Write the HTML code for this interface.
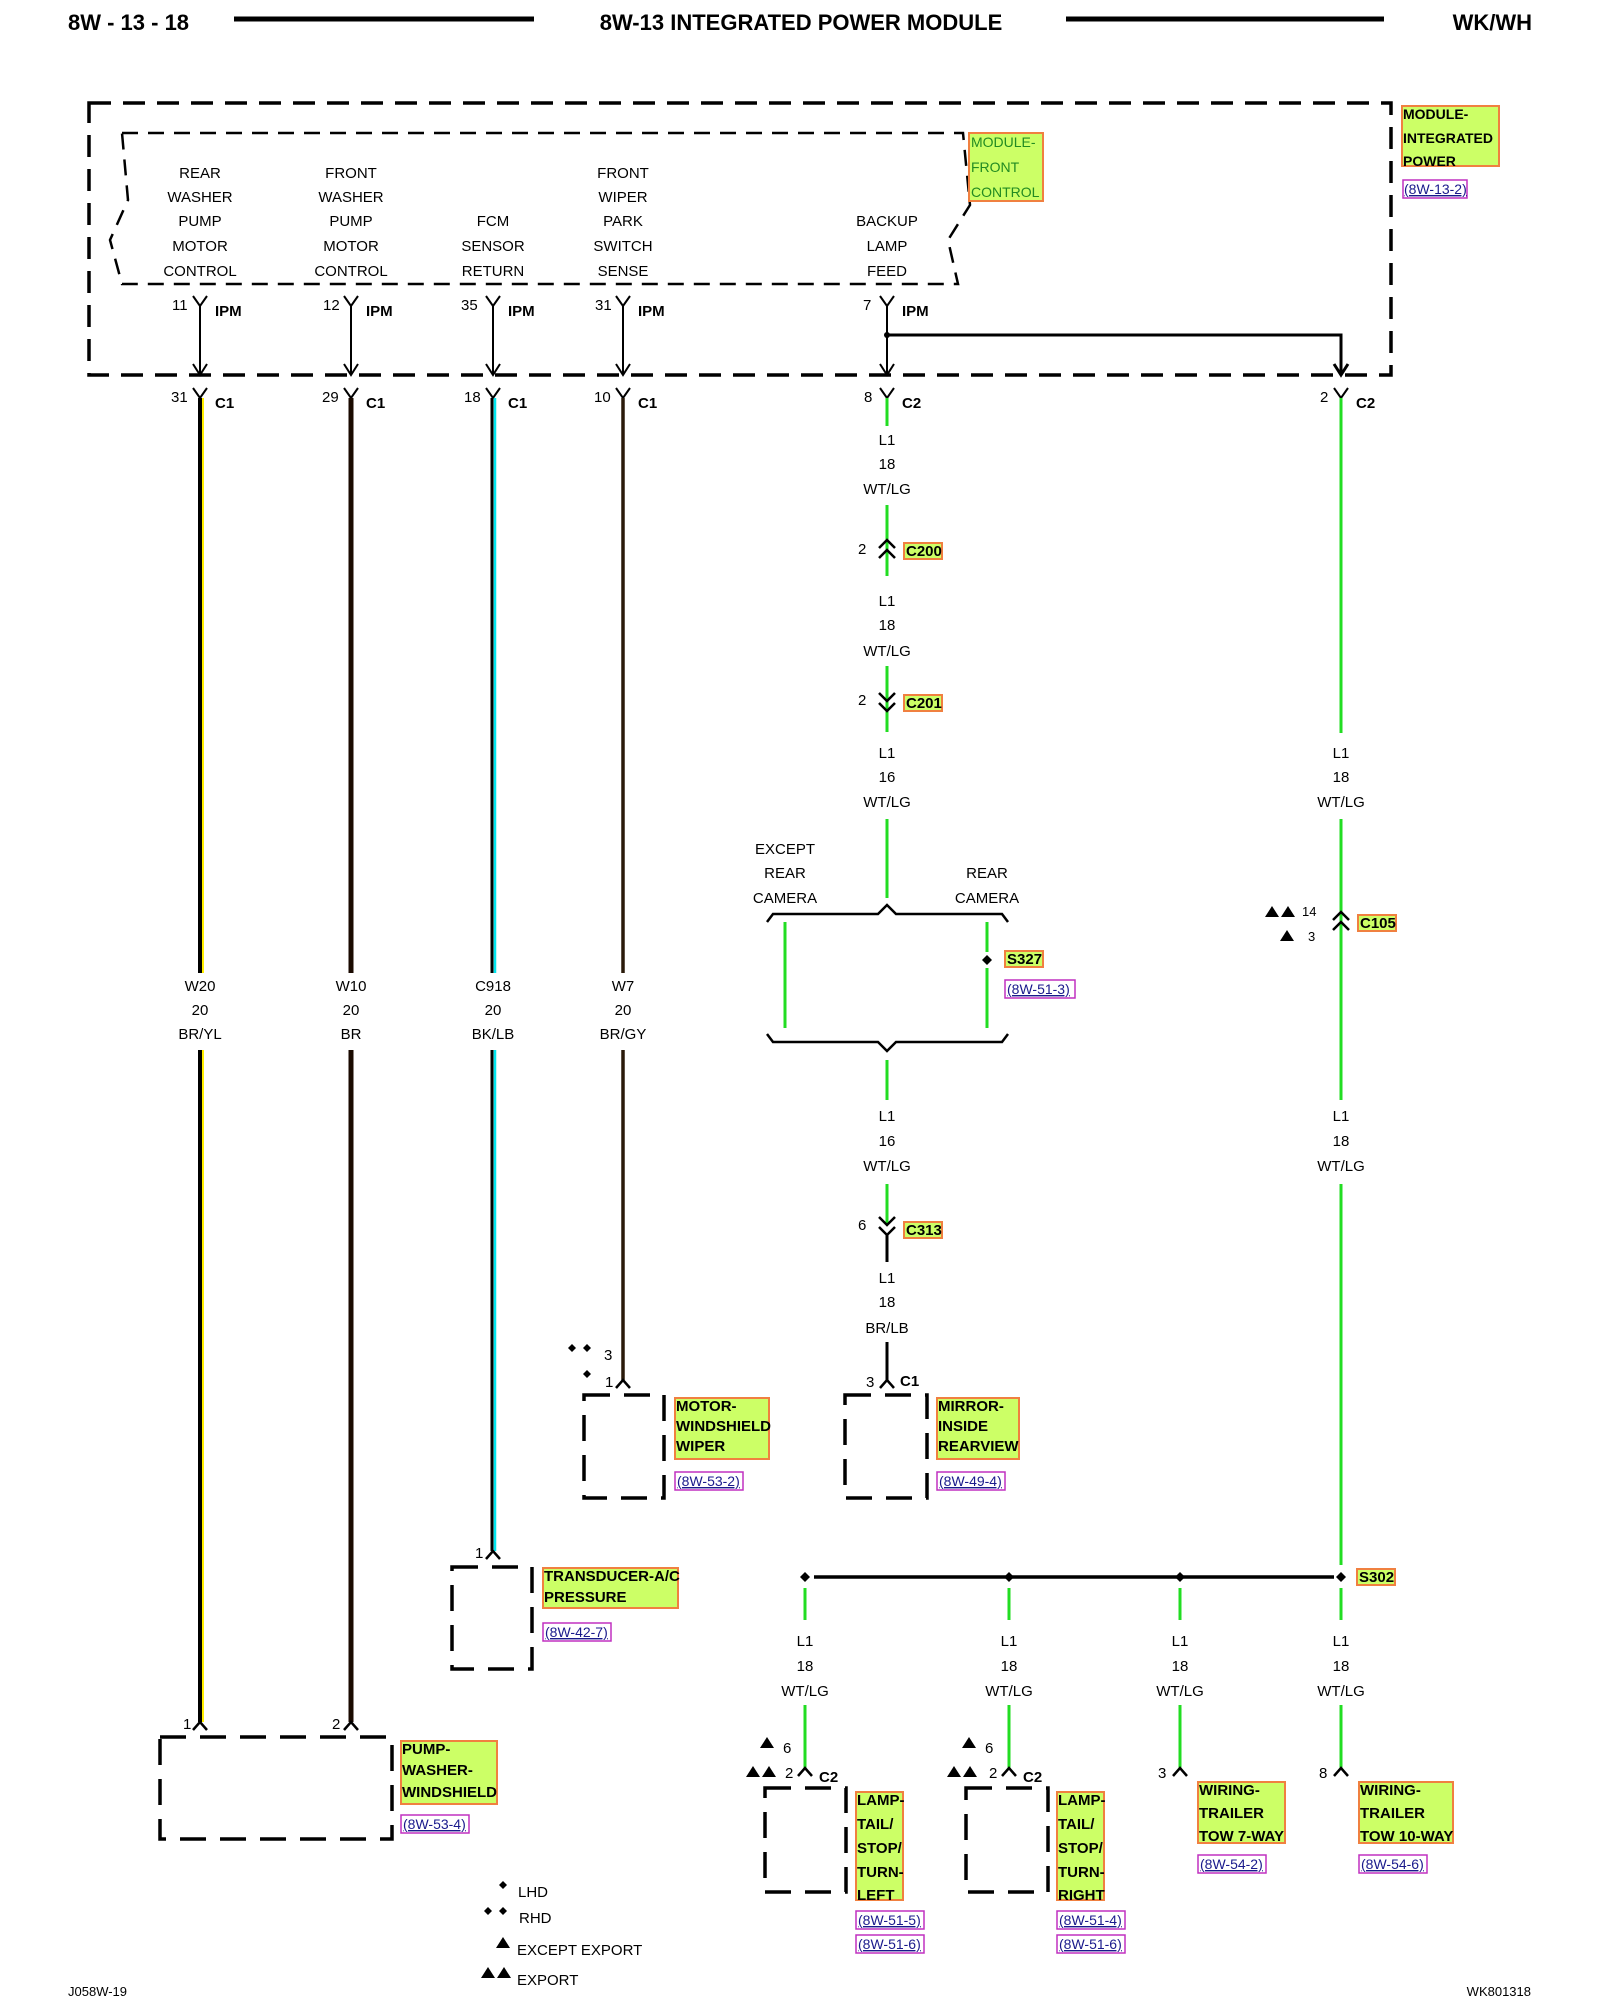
<!DOCTYPE html>
<html><head><meta charset="utf-8"><style>
html,body{margin:0;padding:0;background:#fff;width:1600px;height:2000px;overflow:hidden}
svg{display:block}
text{font-family:"Liberation Sans",sans-serif;font-size:15px;fill:#000}
.b{font-weight:bold}
.m{text-anchor:middle}
.y{fill:#ccff66;stroke:#f08040;stroke-width:2}
.r{fill:none;stroke:#c030c0;stroke-width:1.5}
.rt{fill:#1a1a8c;font-size:14px;text-decoration:underline}
.d{fill:none;stroke:#000;stroke-width:3.5;stroke-dasharray:22 12}
.k{fill:none;stroke:#000;stroke-width:2}
.g{stroke:#22dd22;stroke-width:3;fill:none}
</style></head><body>
<svg width="1600" height="2000" viewBox="0 0 1600 2000" xmlns="http://www.w3.org/2000/svg">
<!-- header -->
<text x="68" y="30" class="b" style="font-size:22px">8W - 13 - 18</text>
<line x1="234" y1="19" x2="534" y2="19" stroke="#000" stroke-width="5"/>
<text x="801" y="30" class="b m" style="font-size:22px">8W-13 INTEGRATED POWER MODULE</text>
<line x1="1066" y1="19" x2="1384" y2="19" stroke="#000" stroke-width="5"/>
<text x="1532" y="30" class="b" style="font-size:22px;text-anchor:end">WK/WH</text>

<!-- outer module box -->
<rect x="89" y="103" width="1302" height="272" class="d"/>
<!-- inner box notched -->
<path d="M122,133 L963,133 L970,205 L948,240 L958,284 L122,284 L110,240 L128,200 Z" class="d" style="stroke-width:2.5;stroke-dasharray:16 10"/>

<rect x="969" y="133" width="74" height="68" class="y"/>
<text x="971" y="147" style="font-size:14px;fill:#228b22">MODULE-</text>
<text x="971" y="172" style="font-size:14px;fill:#228b22">FRONT</text>
<text x="971" y="197" style="font-size:14px;fill:#228b22">CONTROL</text>

<rect x="1402" y="106" width="97" height="60" class="y"/>
<text x="1403" y="119" class="b" style="font-size:14px">MODULE-</text>
<text x="1403" y="143" class="b" style="font-size:14px">INTEGRATED</text>
<text x="1403" y="166" class="b" style="font-size:14px">POWER</text>
<rect x="1403" y="180" width="64" height="18" class="r"/>
<text x="1404" y="194" class="rt">(8W-13-2)</text>

<!-- module labels -->
<g class="m" style="font-size:14px">
<text x="200" y="178" class="m">REAR</text><text x="200" y="202" class="m">WASHER</text><text x="200" y="226" class="m">PUMP</text><text x="200" y="251" class="m">MOTOR</text><text x="200" y="276" class="m">CONTROL</text>
<text x="351" y="178" class="m">FRONT</text><text x="351" y="202" class="m">WASHER</text><text x="351" y="226" class="m">PUMP</text><text x="351" y="251" class="m">MOTOR</text><text x="351" y="276" class="m">CONTROL</text>
<text x="493" y="226" class="m">FCM</text><text x="493" y="251" class="m">SENSOR</text><text x="493" y="276" class="m">RETURN</text>
<text x="623" y="178" class="m">FRONT</text><text x="623" y="202" class="m">WIPER</text><text x="623" y="226" class="m">PARK</text><text x="623" y="251" class="m">SWITCH</text><text x="623" y="276" class="m">SENSE</text>
<text x="887" y="226" class="m">BACKUP</text><text x="887" y="251" class="m">LAMP</text><text x="887" y="276" class="m">FEED</text>
</g>

<!-- IPM pins and internal wires -->
<g class="k">
<path d="M193,296 L200,306 L207,296 M200,306 L200,375 M193,364 L200,375 L207,364"/>
<path d="M344,296 L351,306 L358,296 M351,306 L351,375 M344,364 L351,375 L358,364"/>
<path d="M486,296 L493,306 L500,296 M493,306 L493,375 M486,364 L493,375 L500,364"/>
<path d="M616,296 L623,306 L630,296 M623,306 L623,375 M616,364 L623,375 L630,364"/>
<path d="M880,296 L887,306 L894,296 M887,306 L887,375 M880,364 L887,375 L894,364"/>
<path d="M887,335 L1341,335 L1341,375 M1334,364 L1341,375 L1348,364" style="stroke-width:3"/>
</g>
<circle cx="887" cy="335" r="3"/>
<g style="font-size:13px">
<text x="172" y="310">11</text><text x="323" y="310">12</text><text x="461" y="310">35</text><text x="595" y="310">31</text><text x="863" y="310">7</text>
</g>
<g class="b" style="font-size:14px">
<text x="215" y="316">IPM</text><text x="366" y="316">IPM</text><text x="508" y="316">IPM</text><text x="638" y="316">IPM</text><text x="902" y="316">IPM</text>
</g>

<!-- C1/C2 pins -->
<g class="k">
<path d="M193,388 L200,398 L207,388"/><path d="M344,388 L351,398 L358,388"/><path d="M486,388 L493,398 L500,388"/>
<path d="M616,388 L623,398 L630,388"/><path d="M880,388 L887,398 L894,388"/><path d="M1334,388 L1341,398 L1348,388"/>
</g>
<g style="font-size:13px">
<text x="171" y="402">31</text><text x="322" y="402">29</text><text x="464" y="402">18</text><text x="594" y="402">10</text><text x="864" y="402">8</text><text x="1320" y="402">2</text>
</g>
<g class="b" style="font-size:14px">
<text x="215" y="408">C1</text><text x="366" y="408">C1</text><text x="508" y="408">C1</text><text x="638" y="408">C1</text><text x="902" y="408">C2</text><text x="1356" y="408">C2</text>
</g>

<!-- left wires -->
<g>
<line x1="200" y1="398" x2="200" y2="973" stroke="#000" stroke-width="4"/><line x1="203" y1="398" x2="203" y2="973" stroke="#ffee00" stroke-width="2"/>
<line x1="200" y1="1050" x2="200" y2="1722" stroke="#000" stroke-width="4"/><line x1="203" y1="1050" x2="203" y2="1722" stroke="#ffee00" stroke-width="2"/>
<line x1="351" y1="398" x2="351" y2="973" stroke="#1a0a00" stroke-width="5"/>
<line x1="351" y1="1050" x2="351" y2="1722" stroke="#1a0a00" stroke-width="5"/>
<line x1="492" y1="398" x2="492" y2="973" stroke="#000" stroke-width="3"/><line x1="495" y1="398" x2="495" y2="973" stroke="#00e5ee" stroke-width="2.5"/>
<line x1="492" y1="1050" x2="492" y2="1551" stroke="#000" stroke-width="3"/><line x1="495" y1="1050" x2="495" y2="1551" stroke="#00e5ee" stroke-width="2.5"/>
<line x1="623" y1="398" x2="623" y2="973" stroke="#2a1a0a" stroke-width="3.5"/>
<line x1="623" y1="1050" x2="623" y2="1380" stroke="#2a1a0a" stroke-width="3.5"/>
</g>
<g style="font-size:14px">
<text x="200" y="991" class="m">W20</text><text x="200" y="1015" class="m">20</text><text x="200" y="1039" class="m">BR/YL</text>
<text x="351" y="991" class="m">W10</text><text x="351" y="1015" class="m">20</text><text x="351" y="1039" class="m">BR</text>
<text x="493" y="991" class="m">C918</text><text x="493" y="1015" class="m">20</text><text x="493" y="1039" class="m">BK/LB</text>
<text x="623" y="991" class="m">W7</text><text x="623" y="1015" class="m">20</text><text x="623" y="1039" class="m">BR/GY</text>
</g>

<!-- center green run -->
<g class="g">
<line x1="887" y1="398" x2="887" y2="426"/>
<line x1="887" y1="505" x2="887" y2="576"/>
<line x1="887" y1="666" x2="887" y2="732"/>
<line x1="887" y1="819" x2="887" y2="898"/>
<line x1="785" y1="922" x2="785" y2="1028"/>
<line x1="987" y1="922" x2="987" y2="952"/>
<line x1="987" y1="968" x2="987" y2="1028"/>
<line x1="887" y1="1060" x2="887" y2="1100"/>
<line x1="887" y1="1184" x2="887" y2="1225"/>
<line x1="1341" y1="398" x2="1341" y2="733"/>
<line x1="1341" y1="819" x2="1341" y2="1100"/>
<line x1="1341" y1="1184" x2="1341" y2="1565"/>
</g>
<g style="font-size:14px">
<text x="887" y="445" class="m">L1</text><text x="887" y="469" class="m">18</text><text x="887" y="494" class="m">WT/LG</text>
<text x="887" y="606" class="m">L1</text><text x="887" y="630" class="m">18</text><text x="887" y="656" class="m">WT/LG</text>
<text x="887" y="758" class="m">L1</text><text x="887" y="782" class="m">16</text><text x="887" y="807" class="m">WT/LG</text>
<text x="887" y="1121" class="m">L1</text><text x="887" y="1146" class="m">16</text><text x="887" y="1171" class="m">WT/LG</text>
<text x="887" y="1283" class="m">L1</text><text x="887" y="1307" class="m">18</text><text x="887" y="1333" class="m">BR/LB</text>
<text x="1341" y="758" class="m">L1</text><text x="1341" y="782" class="m">18</text><text x="1341" y="807" class="m">WT/LG</text>
<text x="1341" y="1121" class="m">L1</text><text x="1341" y="1146" class="m">18</text><text x="1341" y="1171" class="m">WT/LG</text>
<text x="785" y="854" class="m">EXCEPT</text><text x="785" y="878" class="m">REAR</text><text x="785" y="903" class="m">CAMERA</text>
<text x="987" y="878" class="m">REAR</text><text x="987" y="903" class="m">CAMERA</text>
</g>
<!-- connectors -->
<g class="k" style="stroke-width:2.5">
<path d="M879,548 L887,540 L895,548 M879,558 L887,550 L895,558"/>
<path d="M879,693 L887,701 L895,693 M879,703 L887,711 L895,703"/>
<path d="M879,1217 L887,1225 L895,1217 M879,1227 L887,1235 L895,1227"/>
<line x1="887" y1="1235" x2="887" y2="1262" stroke-width="3"/>
<line x1="887" y1="1342" x2="887" y2="1380" stroke-width="3"/>
<path d="M1333,920 L1341,912 L1349,920 M1333,930 L1341,922 L1349,930"/>
<path d="M767,922 L773,914 L878,914 L887,905 L896,914 L1002,914 L1008,922"/>
<path d="M767,1034 L773,1042 L878,1042 L887,1051 L896,1042 L1002,1042 L1008,1034"/>
</g>
<g style="font-size:13px"><text x="858" y="554">2</text><text x="858" y="705">2</text><text x="858" y="1230">6</text></g>
<g class="b" style="font-size:13px">
<rect x="904" y="543" width="38" height="16" class="y"/><text x="906" y="556">C200</text>
<rect x="904" y="695" width="38" height="16" class="y"/><text x="906" y="708">C201</text>
<rect x="904" y="1222" width="38" height="16" class="y"/><text x="906" y="1235">C313</text>
<rect x="1358" y="915" width="38" height="16" class="y"/><text x="1360" y="928">C105</text>
<rect x="1005" y="951" width="38" height="16" class="y"/><text x="1007" y="964">S327</text>
<rect x="1357" y="1569" width="38" height="16" class="y"/><text x="1359" y="1582">S302</text>
</g>
<path d="M987,955 L992,960 L987,965 L982,960 Z"/>
<rect x="1005" y="980" width="70" height="18" class="r"/><text x="1007" y="994" class="rt">(8W-51-3)</text>
<!-- C105 markers -->
<path d="M1265,917 L1272,906 L1279,917 Z M1281,917 L1288,906 L1295,917 Z M1280,941 L1287,930 L1294,941 Z"/>
<text x="1302" y="916" style="font-size:13px">14</text><text x="1308" y="941" style="font-size:13px">3</text>

<!-- bus -->
<line x1="814" y1="1577" x2="1334" y2="1577" stroke="#000" stroke-width="3.5"/>
<g><path d="M805,1572 L810,1577 L805,1582 L800,1577Z"/><path d="M1009,1572 L1014,1577 L1009,1582 L1004,1577Z"/><path d="M1180,1572 L1185,1577 L1180,1582 L1175,1577Z"/><path d="M1341,1572 L1346,1577 L1341,1582 L1336,1577Z"/></g>
<g class="g">
<line x1="805" y1="1588" x2="805" y2="1620"/><line x1="1009" y1="1588" x2="1009" y2="1620"/><line x1="1180" y1="1588" x2="1180" y2="1620"/><line x1="1341" y1="1588" x2="1341" y2="1620"/>
<line x1="805" y1="1705" x2="805" y2="1768"/><line x1="1009" y1="1705" x2="1009" y2="1768"/><line x1="1180" y1="1705" x2="1180" y2="1768"/><line x1="1341" y1="1705" x2="1341" y2="1768"/>
</g>
<g style="font-size:14px">
<text x="805" y="1646" class="m">L1</text><text x="805" y="1671" class="m">18</text><text x="805" y="1696" class="m">WT/LG</text>
<text x="1009" y="1646" class="m">L1</text><text x="1009" y="1671" class="m">18</text><text x="1009" y="1696" class="m">WT/LG</text>
<text x="1180" y="1646" class="m">L1</text><text x="1180" y="1671" class="m">18</text><text x="1180" y="1696" class="m">WT/LG</text>
<text x="1341" y="1646" class="m">L1</text><text x="1341" y="1671" class="m">18</text><text x="1341" y="1696" class="m">WT/LG</text>
</g>

<!-- bottom connector pins (inverted Y) -->
<g class="k" style="stroke-width:2.5">
<path d="M193,1730 L200,1722 L207,1730"/><path d="M344,1730 L351,1722 L358,1730"/>
<path d="M486,1559 L493,1551 L500,1559"/><path d="M616,1388 L623,1380 L630,1388"/>
<path d="M880,1388 L887,1380 L894,1388"/>
<path d="M798,1776 L805,1768 L812,1776"/><path d="M1002,1776 L1009,1768 L1016,1776"/>
<path d="M1173,1776 L1180,1768 L1187,1776"/><path d="M1334,1776 L1341,1768 L1348,1776"/>
</g>
<g style="font-size:13px">
<text x="183" y="1729">1</text><text x="332" y="1729">2</text><text x="475" y="1558">1</text><text x="605" y="1387">1</text><text x="604" y="1360">3</text><text x="866" y="1387">3</text>
<text x="785" y="1778">2</text><text x="989" y="1778">2</text><text x="1158" y="1778">3</text><text x="1319" y="1778">8</text>
<text x="783" y="1753">6</text><text x="985" y="1753">6</text>
</g>
<g class="b" style="font-size:14px"><text x="900" y="1386">C1</text><text x="819" y="1782">C2</text><text x="1023" y="1782">C2</text></g>
<!-- diamonds near wiper -->
<path d="M572,1344 L576,1348 L572,1352 L568,1348Z M587,1344 L591,1348 L587,1352 L583,1348Z M587,1370 L591,1374 L587,1378 L583,1374Z"/>
<!-- triangles near lamps -->
<path d="M760,1748 L767,1737 L774,1748Z M746,1777 L753,1766 L760,1777Z M762,1777 L769,1766 L776,1777Z"/>
<path d="M962,1748 L969,1737 L976,1748Z M947,1777 L954,1766 L961,1777Z M963,1777 L970,1766 L977,1777Z"/>

<!-- component boxes -->
<rect x="584" y="1395" width="80" height="103" class="d" style="stroke-width:3.5;stroke-dasharray:26 14"/>
<rect x="845" y="1395" width="82" height="103" class="d" style="stroke-width:3.5;stroke-dasharray:26 14"/>
<rect x="452" y="1567" width="80" height="102" class="d" style="stroke-width:3.5;stroke-dasharray:26 14"/>
<rect x="160" y="1737" width="232" height="102" class="d" style="stroke-width:3.5;stroke-dasharray:26 14"/>
<rect x="765" y="1788" width="81" height="104" class="d" style="stroke-width:3.5;stroke-dasharray:26 14"/>
<rect x="966" y="1788" width="82" height="104" class="d" style="stroke-width:3.5;stroke-dasharray:26 14"/>

<g class="b" style="font-size:14px">
<rect x="675" y="1398" width="94" height="61" class="y"/><text x="676" y="1411">MOTOR-</text><text x="676" y="1431">WINDSHIELD</text><text x="676" y="1451">WIPER</text>
<rect x="937" y="1398" width="82" height="61" class="y"/><text x="938" y="1411">MIRROR-</text><text x="938" y="1431">INSIDE</text><text x="938" y="1451">REARVIEW</text>
<rect x="543" y="1568" width="135" height="40" class="y"/><text x="544" y="1581">TRANSDUCER-A/C</text><text x="544" y="1602">PRESSURE</text>
<rect x="401" y="1741" width="96" height="63" class="y"/><text x="402" y="1754">PUMP-</text><text x="402" y="1775">WASHER-</text><text x="402" y="1797">WINDSHIELD</text>
<rect x="856" y="1792" width="47" height="108" class="y"/><text x="857" y="1805">LAMP-</text><text x="857" y="1829">TAIL/</text><text x="857" y="1853">STOP/</text><text x="857" y="1877">TURN-</text><text x="857" y="1900">LEFT</text>
<rect x="1057" y="1792" width="47" height="108" class="y"/><text x="1058" y="1805">LAMP-</text><text x="1058" y="1829">TAIL/</text><text x="1058" y="1853">STOP/</text><text x="1058" y="1877">TURN-</text><text x="1058" y="1900">RIGHT</text>
<rect x="1198" y="1782" width="87" height="61" class="y"/><text x="1199" y="1795">WIRING-</text><text x="1199" y="1818">TRAILER</text><text x="1199" y="1841">TOW 7-WAY</text>
<rect x="1359" y="1782" width="94" height="61" class="y"/><text x="1360" y="1795">WIRING-</text><text x="1360" y="1818">TRAILER</text><text x="1360" y="1841">TOW 10-WAY</text>
</g>
<g>
<rect x="675" y="1472" width="68" height="18" class="r"/><text x="677" y="1486" class="rt">(8W-53-2)</text>
<rect x="937" y="1472" width="68" height="18" class="r"/><text x="939" y="1486" class="rt">(8W-49-4)</text>
<rect x="543" y="1623" width="68" height="18" class="r"/><text x="545" y="1637" class="rt">(8W-42-7)</text>
<rect x="401" y="1815" width="68" height="18" class="r"/><text x="403" y="1829" class="rt">(8W-53-4)</text>
<rect x="856" y="1911" width="68" height="18" class="r"/><text x="858" y="1925" class="rt">(8W-51-5)</text>
<rect x="856" y="1935" width="68" height="18" class="r"/><text x="858" y="1949" class="rt">(8W-51-6)</text>
<rect x="1057" y="1911" width="68" height="18" class="r"/><text x="1059" y="1925" class="rt">(8W-51-4)</text>
<rect x="1057" y="1935" width="68" height="18" class="r"/><text x="1059" y="1949" class="rt">(8W-51-6)</text>
<rect x="1198" y="1855" width="68" height="18" class="r"/><text x="1200" y="1869" class="rt">(8W-54-2)</text>
<rect x="1359" y="1855" width="68" height="18" class="r"/><text x="1361" y="1869" class="rt">(8W-54-6)</text>
</g>

<!-- legend -->
<path d="M503,1881 L507,1885 L503,1889 L499,1885Z M488,1907 L492,1911 L488,1915 L484,1911Z M503,1907 L507,1911 L503,1915 L499,1911Z"/>
<path d="M496,1948 L503,1937 L510,1948Z M481,1978 L488,1967 L495,1978Z M497,1978 L504,1967 L511,1978Z"/>
<g style="font-size:14px"><text x="518" y="1897">LHD</text><text x="519" y="1923">RHD</text><text x="517" y="1955">EXCEPT EXPORT</text><text x="517" y="1985">EXPORT</text></g>

<text x="68" y="1996" style="font-size:13px">J058W-19</text>
<text x="1531" y="1996" style="font-size:13px;text-anchor:end">WK801318</text>
</svg>
</body></html>
